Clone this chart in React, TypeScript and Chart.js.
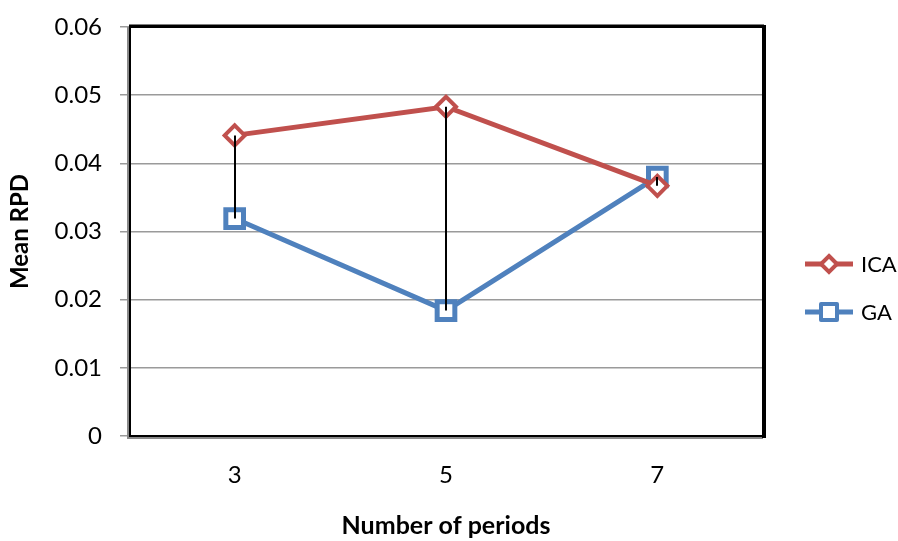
import React, { useEffect, useRef } from 'react';
import { Chart, registerables } from 'chart.js';

Chart.register(...registerables);

const categories = ['3', '5', '7'];
const icaValues = [0.0441, 0.0483, 0.0367];
const gaValues = [0.0319, 0.0184, 0.038];
const yTickLabels = ['0', '0.01', '0.02', '0.03', '0.04', '0.05', '0.06'];
const seriesNames = ['ICA', 'GA'];
const xTitle = 'Number of periods';
const yTitle = 'Mean RPD';

const RED = '#C0504D';
const BLUE = '#4F81BD';
const FONT = 'Lato, "Open Sans", sans-serif';

const dropLinesPlugin = {
  id: 'dropLines',
  afterDatasetsDraw(chart: any) {
    const a = chart.getDatasetMeta(0).data;
    const b = chart.getDatasetMeta(1).data;
    const ctx = chart.ctx;
    ctx.save();
    ctx.strokeStyle = '#000';
    ctx.lineWidth = 2;
    for (let i = 0; i < a.length; i++) {
      ctx.beginPath();
      ctx.moveTo(Math.round(a[i].x), a[i].y);
      ctx.lineTo(Math.round(b[i].x), b[i].y);
      ctx.stroke();
    }
    ctx.restore();
  },
};

const framePlugin = {
  id: 'frame',
  afterDatasetsDraw(chart: any) {
    const { ctx, chartArea } = chart;
    const { left, right, top, bottom } = chartArea;
    ctx.save();
    ctx.strokeStyle = '#8a8a8a';
    ctx.lineWidth = 2;
    ctx.beginPath();
    ctx.moveTo(left - 1, top);
    ctx.lineTo(left - 1, bottom + 2);
    ctx.lineTo(right, bottom + 2);
    ctx.stroke();
    ctx.strokeStyle = '#000';
    ctx.lineWidth = 2;
    ctx.strokeRect(left + 1, top, right - left - 1, bottom - top);
    ctx.lineWidth = 3;
    ctx.beginPath();
    ctx.moveTo(left, top - 1);
    ctx.lineTo(right + 1, top - 1);
    ctx.stroke();
    ctx.lineWidth = 4;
    ctx.beginPath();
    ctx.moveTo(right + 1, top - 2);
    ctx.lineTo(right + 1, bottom + 2);
    ctx.stroke();
    ctx.restore();
  },
};

function drawDiamond(ctx: CanvasRenderingContext2D, x: number, y: number, r: number, color: string) {
  ctx.beginPath();
  ctx.moveTo(x, y - r);
  ctx.lineTo(x + r, y);
  ctx.lineTo(x, y + r);
  ctx.lineTo(x - r, y);
  ctx.closePath();
  ctx.fillStyle = '#fff';
  ctx.fill();
  ctx.strokeStyle = color;
  ctx.lineWidth = 4;
  ctx.stroke();
}

function drawSquare(ctx: CanvasRenderingContext2D, x: number, y: number, h: number, color: string) {
  ctx.beginPath();
  ctx.rect(x - h, y - h, 2 * h, 2 * h);
  ctx.fillStyle = '#fff';
  ctx.fill();
  ctx.strokeStyle = color;
  ctx.lineWidth = 4;
  ctx.lineJoin = 'round';
  ctx.stroke();
}

const legendPlugin = {
  id: 'customLegend',
  afterDraw(chart: any) {
    const ctx = chart.ctx;
    const items = [
      { name: seriesNames[0], color: RED, y: 264, marker: 'diamond' },
      { name: seriesNames[1], color: BLUE, y: 312, marker: 'square' },
    ];
    ctx.save();
    for (const it of items) {
      ctx.strokeStyle = it.color;
      ctx.lineWidth = 5;
      ctx.beginPath();
      ctx.moveTo(805, it.y);
      ctx.lineTo(853, it.y);
      ctx.stroke();
      if (it.marker === 'diamond') drawDiamond(ctx, 829, it.y, 8, it.color);
      else drawSquare(ctx, 829, it.y, 8, it.color);
      ctx.fillStyle = '#000';
      ctx.font = `22px ${FONT}`;
      ctx.textAlign = 'left';
      ctx.textBaseline = 'middle';
      ctx.fillText(it.name, 861, it.y + 1);
    }
    ctx.restore();
  },
};

export default function App() {
  const ref = useRef<HTMLCanvasElement | null>(null);

  useEffect(() => {
    document.body.style.margin = '0';
    const canvas = ref.current;
    if (!canvas) return;
    const chart = new Chart(canvas, {
      type: 'line',
      data: {
        labels: categories,
        datasets: [
          {
            label: seriesNames[0],
            data: icaValues,
            borderColor: RED,
            backgroundColor: '#fff',
            borderWidth: 5,
            pointStyle: 'rectRot',
            pointRadius: 10,
            pointBorderWidth: 4,
            pointBackgroundColor: '#fff',
            pointBorderColor: RED,
            tension: 0,
          },
          {
            label: seriesNames[1],
            data: gaValues,
            borderColor: BLUE,
            backgroundColor: '#fff',
            borderWidth: 5,
            pointStyle: 'rect',
            pointRadius: 12.5,
            pointBorderWidth: 5,
            pointBackgroundColor: '#fff',
            pointBorderColor: BLUE,
            tension: 0,
          },
        ],
      },
      options: {
        responsive: false,
        animation: false,
        layout: { padding: { top: 27, right: 135, bottom: 0, left: 0 } },
        plugins: {
          legend: { display: false },
          tooltip: { enabled: false },
        },
        scales: {
          x: {
            type: 'category',
            offset: true,
            grid: { display: false, drawTicks: false },
            border: { display: false },
            ticks: {
              color: '#000',
              font: { family: FONT, size: 24 },
              padding: 25,
            },
            title: {
              display: true,
              text: xTitle,
              color: '#000',
              font: { family: FONT, size: 25, weight: 'bold' },
              padding: { top: 0, bottom: 0 },
            },
            afterFit(scale: any) {
              scale.height = 105;
              scale.paddingLeft = 0;
              scale.paddingRight = 0;
            },
          },
          y: {
            min: 0,
            max: 0.06,
            ticks: {
              stepSize: 0.01,
              color: '#000',
              font: { family: FONT, size: 24 },
              padding: 18,
              callback: (_v: any, i: number) => yTickLabels[i],
            },
            grid: {
              color: '#9a9a9a',
              lineWidth: 1.5,
              tickLength: 9,
              drawTicks: true,
            },
            border: { display: false },
            title: {
              display: true,
              text: yTitle,
              color: '#000',
              font: { family: FONT, size: 24, weight: 'bold' },
              padding: { top: 6, bottom: 0 },
            },
            afterFit(scale: any) {
              scale.width = 129;
              scale.paddingTop = 0;
              scale.paddingBottom = 0;
            },
          },
        },
      },
      plugins: [framePlugin, dropLinesPlugin, legendPlugin],
    });
    return () => chart.destroy();
  }, []);

  return (
    <div style={{ width: 898, height: 541, background: '#fff' }}>
      <canvas ref={ref} width={898} height={541} />
    </div>
  );
}
